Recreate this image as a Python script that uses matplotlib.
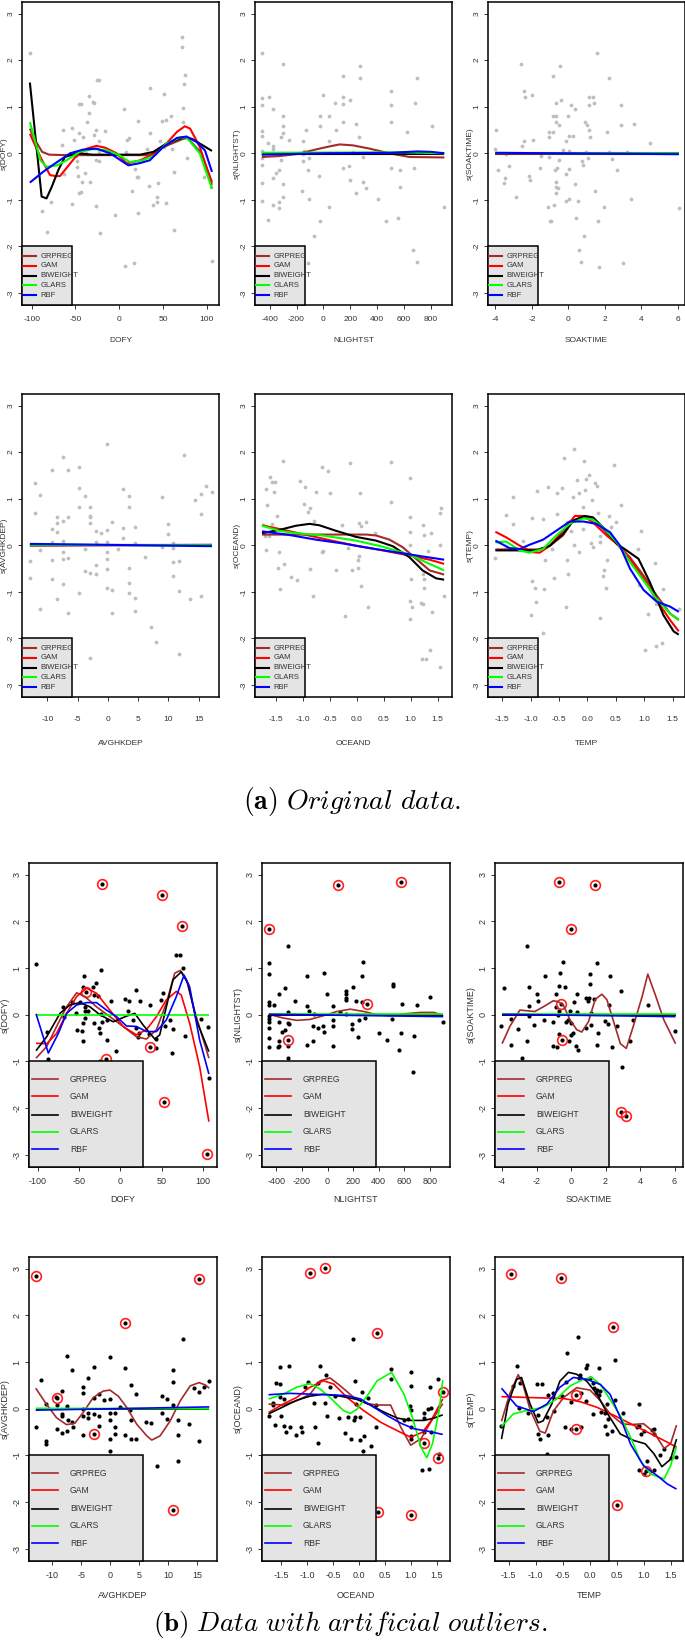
import numpy as np
import matplotlib
matplotlib.use('Agg')
import matplotlib.pyplot as plt
from matplotlib.patches import Rectangle

plt.rcParams['mathtext.fontset'] = 'cm'
plt.rcParams['axes.unicode_minus'] = False

# ── Méthodes et couleurs ───────────────────────────────────────────────
methods = ['GRPREG', 'GAM', 'BIWEIGHT', 'GLARS', 'RBF']
colors = ['#A52A2A', '#FF0000', '#000000', '#00FF00', '#0000FF']

# ── (a) Données originales : résidus partiels ─────────────────────────
a1_pts = [(-102, 2.15), (71.4, 2.49), (71.4, 2.29), (75.2, 1.69), (74.5, 1.49), (-25.7, 1.58), (-23.5, 1.58),
          (35.6, 1.40), (51.3, 1.28), (-34.5, 1.22), (-30, 1.11), (-29, 1.09), (-46, 1.06), (-44, 1.05), (5.5, 0.95),
          (73.3, 0.97), (-35, 0.87), (59, 0.79), (53, 0.72), (49, 0.69), (-37, 0.67), (-54, 0.54), (-64.6, 0.49),
          (-16, 0.48), (-26, 0.51), (22, 0.69), (73, 0.68), (-45.5, 0.43), (-41.7, 0.36), (35.6, 0.43), (11, 0.33),
          (9, 0.28), (-29, 0.39), (-51.6, 0.29), (-22.7, 0.27), (32, 0.09), (7.4, 0.03), (-23, 0.03), (-38, 0.0),
          (47, 0.27), (51, 0.14), (60.8, 0.10), (-49, -0.06), (-48, -0.17), (-27, -0.14), (-22.7, -0.17),
          (77.5, -0.11), (-63, -0.44), (-39, -0.42), (-48, -0.29), (-47, -0.48), (-42.5, -0.61), (-33, -0.61),
          (18, -0.33), (20.7, -0.50), (22, -0.52), (63, -0.41), (97, -0.50), (105, -0.73), (44, -0.63), (34, -0.70),
          (-46, -0.85), (-44, -0.83), (14.7, -0.81), (43, -0.93), (43, -1.04), (38.7, -1.11), (54, -1.07),
          (-53.5, -1.09), (-78, -1.05), (-88, -1.23), (-26, -1.14), (21.5, -1.28), (-5, -1.33), (62.7, -1.65),
          (-82, -1.70), (-21.5, -1.72), (6.7, -2.42), (17, -2.35), (106.5, -2.32), (-65, 0.17)]
a1_grpreg = [(-102, 0.53), (-96, 0.28), (-88, 0.03), (-80, -0.03), (-60, -0.04), (0, -0.04), (35, -0.04),
             (50, 0.13), (73, 0.31), (78, 0.33), (94, 0.0), (106, -0.62)]
a1_gam = [(-102, 0.42), (-90, -0.08), (-79, -0.47), (-72, -0.49), (-67.6, -0.49), (-50, -0.08), (-37, 0.10),
          (-26, 0.16), (-16, 0.12), (-3, 0.0), (8.6, -0.22), (24, -0.15), (39, -0.02), (54, 0.21), (66, 0.46),
          (75, 0.58), (81, 0.53), (92, 0.14), (106, -0.68)]
a1_biweight = [(-102, 1.52), (-96, 0.42), (-88.6, -0.93), (-83, -0.97), (-77, -0.72), (-69.5, -0.36), (-62, -0.08),
               (-48.6, 0.0), (-30, -0.03), (24, -0.03), (39, 0.03), (54, 0.21), (73, 0.34), (83, 0.31), (92, 0.21),
               (106, 0.05)]
a1_glars = [(-102, 0.67), (-90, -0.15), (-83, -0.29), (-71, -0.26), (-60, -0.15), (-45, 0.03), (-30, 0.09),
            (-15, 0.07), (0, -0.04), (12, -0.19), (27, -0.15), (41, -0.04), (54, 0.21), (69.5, 0.34), (77, 0.34),
            (92, 0.0), (106, -0.76)]
a1_rbf = [(-102, -0.63), (-87, -0.40), (-71, -0.19), (-56, 0.0), (-41, 0.08), (-26, 0.10), (-10.5, 0.0), (0, -0.13),
          (10.5, -0.26), (24, -0.21), (35, -0.15), (50, 0.13), (66, 0.33), (77, 0.36), (88.6, 0.24), (98, 0.06),
          (106, -0.40)]

a2_pts = [(-457, 2.15), (-303, 1.92), (273, 1.88), (144, 1.67), (275, 1.61), (696, 1.61), (505, 1.33), (-4, 1.26),
          (-454, 1.19), (-405, 1.20), (144, 1.20), (196, 1.15), (85, 1.09), (681, 1.08), (-454, 1.03), (147, 1.05),
          (505, 1.04), (-378, 0.95), (-303, 0.81), (-24, 0.81), (45, 0.81), (142, 0.67), (505, 0.67), (-303, 0.59),
          (-24, 0.59), (243, 0.62), (805, 0.59), (-128, 0.51), (94, 0.51), (-454, 0.48), (-454, 0.38), (-303, 0.44),
          (-313, 0.35), (-257, 0.29), (624, 0.46), (263, 0.34), (-155, 0.26), (45, 0.26), (-415, 0.23), (-375, 0.16),
          (-375, 0.10), (-454, 0.05), (-454, -0.01), (-143, 0.05), (-155, -0.02), (223, 0.03), (295, -0.09),
          (-454, -0.10), (-316, -0.15), (-155, -0.17), (-108, -0.10), (-454, -0.26), (144, -0.31), (193, -0.28),
          (505, -0.31), (676, -0.32), (567, -0.36), (-331, -0.36), (-113, -0.35), (-353, -0.43), (-378, -0.53),
          (-34, -0.49), (196, -0.57), (293, -0.61), (-454, -0.63), (-303, -0.65), (567, -0.72), (313, -0.75),
          (243, -0.85), (-158, -0.82), (-303, -0.94), (409, -0.98), (-110, -0.99), (-454, -1.03), (-333, -1.04),
          (-378, -1.12), (-331, -1.18), (45, -1.15), (899, -1.16), (-410, -1.44), (-24, -1.45), (463, -1.45),
          (555, -1.40), (-71, -1.77), (669, -2.08), (696, -2.34), (-113, -2.35)]
a2_grpreg = [(-457, -0.08), (-330, -0.06), (-202, -0.02), (-29, 0.10), (50, 0.15), (120, 0.19), (219, 0.17),
             (342, 0.10), (490, 0.0), (639, -0.08), (899, -0.09)]
a2_gam = [(-457, 0.0), (899, 0.0)]
a2_biweight = [(-457, -0.01), (899, -0.01)]
a2_glars = [(-457, 0.01), (600, 0.02), (899, 0.0)]
a2_rbf = [(-457, -0.03), (0, 0.0), (500, 0.01), (700, 0.04), (800, 0.03), (899, 0.0)]

a3_pts = [(1.55, 2.15), (-2.57, 1.92), (-0.43, 1.88), (-0.82, 1.67), (2.23, 1.61), (-2.44, 1.33), (-2.35, 1.20),
          (-1.98, 1.25), (1.15, 1.20), (1.33, 1.20), (-0.38, 1.15), (-0.67, 1.08), (1.11, 1.04), (1.39, 1.09),
          (2.89, 1.04), (0.14, 1.03), (0.34, 0.95), (-0.82, 0.81), (-0.67, 0.81), (-0.01, 0.81), (0.91, 0.67),
          (-0.67, 0.67), (-0.49, 0.60), (1.02, 0.60), (2.89, 0.60), (3.59, 0.62), (1.15, 0.51), (-3.94, 0.51),
          (-1.06, 0.46), (-0.82, 0.46), (2.10, 0.45), (4.45, 0.23), (-1.04, 0.34), (0.01, 0.37), (0.28, 0.38),
          (1.18, 0.34), (-1.94, 0.29), (-2.44, 0.26), (-2.53, 0.15), (-0.14, 0.26), (-4.0, 0.09), (-0.29, 0.06),
          (0.01, 0.05), (0.95, 0.03), (2.21, 0.03), (3.22, 0.03), (-3.43, -0.02), (-1.48, -0.06), (-1.08, -0.09),
          (1.07, -0.10), (2.40, -0.12), (-0.49, -0.15), (0.74, -0.16), (0.81, -0.25), (-3.25, -0.28), (-1.54, -0.31),
          (-0.64, -0.31), (0.06, -0.33), (-0.71, -0.36), (2.67, -0.35), (-3.85, -0.37), (-0.14, -0.45),
          (-2.18, -0.48), (-2.09, -0.57), (-3.49, -0.53), (-3.54, -0.63), (-0.67, -0.61), (0.34, -0.65),
          (-0.67, -0.72), (-0.54, -0.75), (-0.65, -0.85), (1.48, -0.82), (-2.86, -0.94), (0.06, -0.98),
          (3.41, -0.99), (-0.12, -1.03), (0.52, -1.03), (-0.78, -1.12), (-1.10, -1.15), (1.94, -1.16),
          (6.07, -1.18), (0.43, -1.40), (-1.02, -1.45), (-0.94, -1.45), (1.64, -1.45), (0.87, -1.77),
          (0.58, -2.08), (0.72, -2.34), (1.68, -2.44), (2.97, -2.35)]
a3_grpreg = [(-4.0, -0.01), (6.05, -0.01)]
a3_gam = [(-4.0, 0.0), (6.05, 0.0)]
a3_biweight = [(-4.0, 0.0), (6.05, -0.005)]
a3_glars = [(-4.0, 0.005), (6.05, 0.0)]
a3_rbf = [(-4.0, 0.01), (6.05, -0.02)]

a4_pts = [(-0.2, 2.17), (-7.47, 1.89), (12.58, 1.93), (-4.77, 1.68), (-9.28, 1.61), (-6.59, 1.62), (-12.04, 1.33),
          (16.27, 1.27), (-4.77, 1.22), (2.56, 1.20), (17.15, 1.15), (-11.16, 1.09), (15.33, 1.10), (-3.78, 1.05),
          (3.49, 1.05), (8.94, 1.04), (14.45, 0.97), (-4.77, 0.83), (-2.9, 0.83), (3.49, 0.83), (-12.04, 0.69),
          (15.33, 0.68), (-8.46, 0.60), (-6.59, 0.61), (-2.9, 0.63), (-2.9, 0.60), (-7.47, 0.52), (0.74, 0.51),
          (-8.46, 0.48), (-2.9, 0.47), (9.88, 0.45), (-9.28, 0.34), (-0.2, 0.33), (2.56, 0.38), (4.43, 0.39),
          (-1.96, 0.31), (-1.08, 0.27), (-8.46, 0.28), (9.88, 0.24), (2.56, 0.16), (-7.47, 0.10), (-9.28, 0.06),
          (-1.96, 0.08), (-0.2, 0.06), (4.43, 0.05), (10.76, 0.05), (8.94, -0.03), (10.76, -0.06), (-3.78, -0.08),
          (1.67, -0.09), (-11.16, -0.11), (-7.47, -0.15), (-0.2, -0.14), (-6.59, -0.27), (6.19, -0.25),
          (-9.28, -0.31), (-7.47, -0.29), (-0.2, -0.29), (-12.92, -0.34), (10.76, -0.35), (11.70, -0.34),
          (-1.96, -0.43), (3.49, -0.48), (-0.2, -0.52), (-3.78, -0.56), (-2.9, -0.59), (-1.96, -0.62),
          (10.76, -0.65), (-12.92, -0.71), (-9.28, -0.73), (-7.47, -0.83), (3.49, -0.80), (-0.2, -0.92),
          (0.74, -0.96), (11.70, -0.98), (-4.77, -1.03), (3.49, -1.03), (15.33, -1.10), (4.43, -1.14),
          (-8.4, -1.15), (13.51, -1.16), (-11.16, -1.38), (-6.59, -1.45), (0.74, -1.45), (4.43, -1.42),
          (7.13, -1.76), (8.01, -2.07), (11.70, -2.34), (-2.9, -2.43)]
a4_grpreg = [(-12.9, -0.01), (17.2, 0.01)]
a4_gam = [(-12.9, 0.0), (17.2, 0.0)]
a4_biweight = [(-12.9, 0.0), (17.2, 0.0)]
a4_glars = [(-12.9, 0.01), (17.2, 0.0)]
a4_rbf = [(-12.9, 0.03), (17.2, -0.02)]

a5_pts = [(-1.36, 1.82), (-0.12, 1.77), (0.63, 1.79), (-0.64, 1.69), (-0.53, 1.60), (-1.60, 1.47), (0.99, 1.45),
          (-1.57, 1.36), (-1.51, 1.36), (-1.04, 1.38), (-0.95, 1.25), (-1.67, 1.20), (-1.52, 1.15), (-0.76, 1.15),
          (-0.49, 1.12), (0.06, 1.13), (0.63, 0.92), (-1.66, 0.87), (-0.97, 0.88), (-0.87, 0.81), (1.57, 0.79),
          (-0.90, 0.71), (1.54, 0.69), (-1.48, 0.63), (0.98, 0.61), (-0.79, 0.53), (0.17, 0.49), (0.04, 0.48),
          (-1.56, 0.45), (-1.73, 0.43), (-0.27, 0.43), (0.08, 0.41), (1.22, 0.43), (0.99, 0.29), (1.37, 0.27),
          (1.24, 0.22), (-1.69, 0.19), (-1.62, 0.19), (0.34, 0.27), (0.99, 0.01), (1.54, 0.0), (-0.16, -0.06),
          (-1.68, -0.10), (-0.63, -0.12), (-0.64, -0.14), (-1.44, -0.15), (1.32, -0.13), (0.05, -0.22),
          (0.03, -0.31), (-1.35, -0.40), (-1.45, -0.48), (0.03, -0.48), (-0.86, -0.50), (-0.39, -0.54),
          (-0.08, -0.54), (1.22, -0.61), (1.25, -0.72), (1.01, -0.72), (-1.22, -0.68), (-1.10, -0.74),
          (0.08, -0.87), (-1.42, -0.93), (1.24, -0.91), (-0.80, -1.08), (1.62, -1.10), (0.22, -1.33),
          (0.98, -1.20), (1.03, -1.33), (1.20, -1.23), (1.22, -1.27), (1.40, -1.43), (-0.22, -1.53),
          (0.99, -1.58), (1.36, -2.25), (1.21, -2.45), (1.28, -2.45), (1.54, -2.62)]
a5_grpreg = [(-1.75, 0.23), (-1.0, 0.23), (0.18, 0.23), (0.36, 0.21), (0.61, 0.12), (0.85, -0.04), (1.10, -0.29),
             (1.35, -0.54), (1.62, -0.63)]
a5_gam = [(-1.75, 0.43), (-1.43, 0.35), (-1.0, 0.24), (-0.5, 0.11), (-0.01, -0.01), (0.48, -0.11), (0.98, -0.22),
          (1.35, -0.31), (1.62, -0.40)]
a5_biweight = [(-1.75, 0.26), (-1.43, 0.33), (-1.12, 0.42), (-0.87, 0.46), (-0.69, 0.43), (-0.38, 0.31),
               (-0.01, 0.18), (0.36, 0.10), (0.67, -0.02), (0.98, -0.26), (1.22, -0.54), (1.47, -0.71),
               (1.62, -0.74)]
a5_glars = [(-1.75, 0.42), (-1.43, 0.31), (-1.12, 0.26), (-0.63, 0.21), (-0.01, 0.10), (0.48, -0.03),
            (0.98, -0.20), (1.35, -0.40), (1.62, -0.54)]
a5_rbf = [(-1.75, 0.30), (-1.24, 0.22), (-0.75, 0.12), (-0.26, 0.04), (0.24, -0.06), (0.73, -0.15), (1.22, -0.24),
          (1.62, -0.31)]

a6_pts = [(-0.23, 2.07), (-0.42, 1.88), (-0.06, 1.80), (0.47, 1.72), (0.03, 1.50), (-0.18, 1.40), (-0.03, 1.42),
          (0.13, 1.33), (0.17, 1.28), (-0.70, 1.26), (-0.44, 1.22), (-0.88, 1.16), (-0.53, 1.12), (-0.15, 1.12),
          (-0.05, 1.18), (-1.31, 1.03), (-0.25, 1.03), (0.09, 0.98), (0.60, 0.87), (-0.08, 0.83), (-0.53, 0.68),
          (0.19, 0.69), (-1.44, 0.64), (0.38, 0.62), (-0.98, 0.58), (-0.78, 0.57), (0.50, 0.51), (-1.31, 0.46),
          (-0.36, 0.51), (0.11, 0.49), (0.42, 0.40), (-0.07, 0.35), (-0.29, 0.31), (0.94, 0.31), (0.22, 0.20),
          (0.06, 0.05), (0.10, -0.04), (0.23, 0.06), (-0.24, 0.0), (-1.13, 0.10), (-0.62, -0.08), (-1.44, -0.06),
          (-0.15, -0.15), (0.90, -0.09), (0.34, -0.31), (-0.75, -0.31), (-0.36, -0.31), (-1.62, -0.27),
          (1.19, -0.38), (0.29, -0.54), (0.27, -0.65), (-0.34, -0.62), (-0.58, -0.71), (-0.98, -0.77),
          (0.91, -0.85), (0.32, -0.91), (-0.92, -0.91), (-0.77, -0.94), (1.34, -0.95), (-0.91, -1.22),
          (1.21, -1.26), (1.39, -1.36), (-0.37, -1.32), (1.61, -1.37), (1.06, -1.48), (-1.0, -1.50),
          (0.22, -1.57), (-0.79, -1.89), (1.31, -2.10), (1.21, -2.17), (1.02, -2.26)]
a6_grpreg = [(-1.62, -0.09), (-0.84, -0.09), (-0.66, -0.01), (-0.43, 0.21), (-0.25, 0.53), (-0.07, 0.62),
             (0.10, 0.56), (0.28, 0.35), (0.52, 0.03), (0.75, -0.26), (0.99, -0.65), (1.22, -1.08), (1.46, -1.47),
             (1.61, -1.60)]
a6_gam = [(-1.62, 0.29), (-1.43, 0.17), (-1.19, -0.01), (-0.96, -0.15), (-0.84, -0.16), (-0.66, -0.01),
          (-0.43, 0.31), (-0.22, 0.63), (-0.07, 0.63), (0.10, 0.49), (0.34, 0.21), (0.52, 0.03), (0.75, -0.29),
          (0.99, -0.72), (1.22, -1.18), (1.46, -1.61), (1.61, -1.85)]
a6_biweight = [(-1.62, -0.11), (-0.90, -0.11), (-0.66, -0.01), (-0.43, 0.24), (-0.25, 0.53), (-0.04, 0.63),
               (0.10, 0.60), (0.28, 0.38), (0.52, 0.03), (0.69, -0.11), (0.90, -0.29), (1.10, -0.79),
               (1.34, -1.50), (1.52, -1.85), (1.61, -1.92)]
a6_glars = [(-1.62, 0.06), (-1.43, 0.08), (-1.19, -0.11), (-1.02, -0.16), (-0.78, -0.08), (-0.55, 0.21),
            (-0.31, 0.46), (-0.07, 0.58), (0.10, 0.55), (0.28, 0.38), (0.52, 0.06), (0.75, -0.36), (0.99, -0.76),
            (1.22, -1.15), (1.46, -1.47), (1.61, -1.61)]
a6_rbf = [(-1.62, 0.10), (-1.37, -0.06), (-1.19, -0.08), (-1.02, 0.01), (-0.78, 0.12), (-0.55, 0.31),
          (-0.31, 0.51), (-0.07, 0.51), (0.16, 0.46), (0.40, 0.28), (0.57, 0.0), (0.75, -0.50), (0.99, -0.96),
          (1.22, -1.21), (1.46, -1.32), (1.61, -1.43)]

# ── (b) Données avec valeurs aberrantes artificielles ──────────────────
b1_pts = [(-102, 1.08), (67.8, 1.27), (72.2, 1.28), (75.8, 1.0), (-44.1, 0.82), (-23.1, 0.95), (-29.2, 0.69),
          (-45.7, 0.60), (-33.4, 0.59), (-32.2, 0.42), (-27.6, 0.40), (18.7, 0.52), (6.2, 0.33), (10.6, 0.30),
          (23.5, 0.30), (-10.7, 0.30), (52.1, 0.46), (49.3, 0.32), (36.4, 0.20), (-69.8, 0.17), (-59.0, 0.27),
          (-48.5, 0.27), (-43.3, 0.17), (-42.5, 0.09), (-38.8, 0.07), (9.4, 0.08), (-54.1, 0.03), (-68.6, -0.04),
          (-23.1, 0.02), (-43.3, -0.07), (-22.7, -0.15), (-31.6, -0.18), (-44.9, -0.18), (15.1, -0.11),
          (-16.7, -0.11), (54.5, -0.25), (60.6, -0.11), (19.1, -0.29), (-52.9, -0.32), (-46.9, -0.34),
          (-24.7, -0.40), (-25.9, -0.29), (63.8, -0.31), (22.7, -0.38), (-88.7, -0.37), (34.8, -0.41),
          (43.3, -0.52), (21.5, -0.48), (-45.7, -0.57), (-16.7, -0.55), (77.9, -0.45), (42.9, -0.72),
          (63.0, -0.82), (-5.0, -0.77), (-24.7, -0.98), (-87.9, -0.95), (106.0, -0.27), (107.2, -1.36),
          (97.2, -0.09)]
b1_out = [(-21.9, 2.79), (50.1, 2.57), (74.2, 1.91), (-41.7, 0.48), (-17.5, -0.95), (36.0, -0.70), (52.5, -1.86),
          (105.2, -2.98)]
b1_grpreg = [(-102, -0.93), (-89.1, -0.68), (-77.1, -0.25), (-65.0, 0.17), (-52.9, 0.47), (-42.9, 0.39),
             (-28.8, 0.17), (-12.7, -0.04), (3.4, -0.25), (19.5, -0.47), (31.6, -0.52), (43.7, -0.32), (55.7, 0.25),
             (65.8, 0.89), (72.6, 0.95), (79.9, 0.75), (91.9, -0.04), (107.2, -0.93)]
b1_gam = [(-102, -0.61), (-89.1, -0.62), (-77.1, -0.40), (-65.0, 0.03), (-52.9, 0.39), (-40.8, 0.57), (-28.8, 0.46),
          (-12.7, 0.10), (3.4, -0.25), (19.5, -0.43), (31.6, -0.32), (43.7, -0.04), (55.7, 0.32), (67.8, 0.50),
          (73.8, 0.42), (83.9, -0.18), (96.0, -1.11), (107.2, -2.29)]
b1_biweight = [(-102, -0.77), (-89.1, -0.47), (-73.0, 0.03), (-61.0, 0.21), (-48.9, 0.26), (-36.8, 0.17),
               (-24.7, 0.0), (-8.6, -0.15), (7.4, -0.03), (17.5, 0.03), (27.6, -0.22), (41.7, -0.52),
               (47.7, -0.43), (55.7, 0.17), (63.8, 0.75), (73.8, 0.92), (81.9, 0.67), (91.9, -0.11),
               (107.2, -0.79)]
b1_glars = [(-102, 0.0), (107.2, 0.0)]
b1_rbf = [(-102, 0.02), (-87.1, -0.82), (-75.0, -0.40), (-65.0, 0.03), (-52.9, 0.21), (-40.8, 0.26), (-28.8, 0.26),
          (-16.7, 0.10), (-4.6, -0.04), (7.4, -0.24), (19.5, -0.25), (31.6, -0.36), (43.7, -0.36), (55.7, -0.11),
          (67.8, 0.39), (77.1, 0.85), (83.9, 0.60), (96.0, -0.54), (107.2, -1.27)]

b2_pts = [(-308, 1.48), (-460, 1.11), (-460, 0.87), (275, 1.14), (272, 0.84), (-158, 0.82), (-27, 0.90),
          (509, 0.66), (509, 0.62), (-332, 0.57), (196, 0.59), (-382, 0.44), (-6, 0.45), (144, 0.51), (144, 0.45),
          (144, 0.35), (146, 0.32), (805, 0.37), (-460, 0.28), (-458, 0.21), (-418, 0.20), (-258, 0.30),
          (222, 0.30), (267, 0.27), (-158, 0.19), (584, 0.23), (698, 0.20), (-148, 0.07), (-308, 0.06), (94, 0.05),
          (44, 0.18), (-109, 0.02), (144, 0.01), (-460, -0.02), (-460, -0.10), (-460, -0.15), (293, -0.07),
          (246, -0.12), (506, -0.10), (-379, -0.15), (-313, -0.18), (-303, -0.20), (44, -0.12), (193, -0.19),
          (-114, -0.24), (41, -0.24), (-38, -0.25), (-72, -0.29), (-460, -0.28), (-353, -0.36), (-332, -0.32),
          (-25, -0.36), (193, -0.30), (406, -0.40), (572, -0.40), (677, -0.45), (902, -0.16), (241, -0.47),
          (464, -0.54), (-379, -0.57), (-116, -0.57), (-460, -0.50), (-379, -0.66), (-158, -0.65), (-385, -0.70),
          (-311, -0.66), (-460, -0.70), (41, -0.66), (556, -0.75), (-308, -0.93), (666, -1.23)]
b2_out = [(-460, 1.84), (83, 2.78), (572, 2.85), (312, 0.22), (-311, -0.54)]
b2_grpreg = [(-460, 0.01), (-347, -0.07), (-242, -0.12), (-137, -0.10), (-32, -0.02), (73, 0.07), (178, 0.12),
             (283, 0.07), (388, 0.0), (493, -0.02), (598, 0.02), (729, 0.05), (834, 0.05), (905, -0.02)]
b2_gam = [(-460, 0.0), (905, 0.0)]
b2_biweight = [(-460, 0.0), (905, 0.0)]
b2_glars = [(-460, 0.01), (905, 0.01)]
b2_rbf = [(-460, 0.01), (905, -0.04)]

b3_pts = [(-2.58, 1.48), (-0.47, 1.14), (1.53, 1.11), (-1.49, 0.82), (2.25, 0.84), (-0.66, 0.90), (1.11, 0.87),
          (-0.68, 0.62), (-0.35, 0.59), (-2.45, 0.60), (-3.88, 0.57), (1.11, 0.65), (-2.0, 0.45), (-0.85, 0.45),
          (0.35, 0.45), (2.89, 0.51), (0.16, 0.28), (0.86, 0.36), (1.03, 0.36), (0.97, 0.29), (1.32, 0.33),
          (-1.94, 0.29), (2.21, 0.20), (4.45, 0.20), (-2.45, 0.19), (-0.87, 0.17), (-0.68, 0.09), (-0.04, 0.07),
          (0.35, 0.05), (1.13, 0.03), (-0.74, 0.0), (-2.41, -0.02), (-3.46, -0.10), (-0.27, -0.15),
          (-0.17, -0.11), (0.02, -0.17), (-1.55, -0.11), (1.94, -0.14), (1.15, -0.22), (3.59, -0.11),
          (2.14, -0.20), (-1.05, -0.15), (2.66, -0.24), (-4.04, -0.23), (-2.15, -0.22), (-3.06, -0.30),
          (1.59, -0.38), (0.10, -0.38), (0.0, -0.43), (-0.72, -0.42), (0.84, -0.29), (6.0, -0.34), (-2.54, -0.57),
          (-0.14, -0.57), (0.29, -0.66), (-1.07, -0.66), (-3.50, -0.65), (0.43, -0.75), (-0.80, -0.70),
          (1.50, -0.65), (2.35, -0.70), (3.44, -0.57), (-2.85, -0.93), (2.93, -1.12)]
b3_out = [(-0.72, 2.85), (1.40, 2.78), (0.0, 1.84), (-0.60, 0.22), (-0.50, -0.54), (2.87, -2.09), (3.20, -2.17)]
b3_grpreg = [(-4.0, -0.62), (-3.55, -0.25), (-2.97, 0.10), (-2.68, 0.09), (-2.10, 0.07), (-1.61, 0.17),
             (-1.03, 0.30), (-0.74, 0.28), (-0.45, 0.21), (-0.06, -0.11), (0.33, -0.32), (0.62, -0.37),
             (1.01, -0.15), (1.40, 0.33), (1.79, 0.44), (2.08, 0.32), (2.47, -0.15), (2.86, -0.62), (3.20, -0.72),
             (3.63, -0.22), (4.12, 0.39), (4.45, 0.87), (4.89, 0.42), (5.38, -0.11), (6.06, -0.62)]
b3_gam = [(-4.0, 0.0), (6.06, 0.0)]
b3_biweight = [(-4.0, 0.0), (6.06, 0.0)]
b3_glars = [(-4.0, 0.01), (6.06, 0.01)]
b3_rbf = [(-4.0, 0.01), (6.06, -0.04)]

b4_pts = [(12.63, 1.49), (-7.40, 1.14), (-0.10, 1.11), (-6.53, 0.84), (-2.82, 0.90), (2.62, 0.88), (10.78, 0.82),
          (-3.87, 0.66), (-11.97, 0.61), (17.14, 0.59), (16.21, 0.46), (14.42, 0.45), (-4.68, 0.46),
          (10.78, 0.57), (3.54, 0.51), (-8.32, 0.37), (15.35, 0.35), (4.41, 0.31), (-4.68, 0.33), (-1.96, 0.31),
          (8.98, 0.28), (-9.31, 0.26), (-2.88, 0.23), (9.85, 0.20), (-1.03, 0.19), (-0.10, 0.21), (-7.45, 0.05),
          (-9.19, 0.09), (-11.04, 0.10), (1.69, 0.03), (10.78, 0.07), (-4.68, -0.01), (3.48, -0.03),
          (-0.10, -0.10), (0.76, -0.09), (-8.32, -0.11), (-3.81, -0.10), (-2.82, -0.11), (8.92, -0.09),
          (-8.32, -0.15), (-1.96, -0.15), (-4.68, -0.16), (-3.81, -0.20), (9.85, -0.22), (-0.10, -0.23),
          (3.54, -0.24), (11.70, -0.24), (-7.34, -0.24), (6.26, -0.28), (7.13, -0.30), (-6.53, -0.29),
          (13.55, -0.33), (-1.90, -0.36), (-6.47, -0.38), (-12.89, -0.40), (0.82, -0.40), (-9.25, -0.44),
          (-7.40, -0.47), (-8.32, -0.51), (0.76, -0.53), (-4.68, -0.56), (2.62, -0.56), (11.70, -0.57),
          (3.54, -0.65), (4.41, -0.65), (-0.10, -0.64), (15.35, -0.70), (-11.04, -0.70), (-11.04, -0.76),
          (-0.10, -0.91), (11.70, -1.12), (8.06, -1.22)]
b4_out = [(-12.89, 2.85), (15.35, 2.78), (2.62, 1.84), (-9.19, 0.22), (-2.82, -0.53), (10.78, -2.17)]
b4_grpreg = [(-12.89, 0.44), (-11.04, 0.10), (-9.31, -0.19), (-7.57, -0.34), (-6.12, -0.31), (-4.68, -0.08),
             (-2.94, 0.24), (-1.20, 0.38), (-0.05, 0.40), (1.40, 0.27), (2.85, 0.03), (4.58, -0.33), (6.32, -0.58),
             (7.19, -0.67), (8.63, -0.58), (10.37, -0.26), (12.11, 0.17), (13.84, 0.49), (15.35, 0.56),
             (16.45, 0.51), (17.14, 0.44)]
b4_gam = [(-12.89, 0.0), (17.14, 0.0)]
b4_biweight = [(-12.89, 0.0), (17.14, 0.0)]
b4_glars = [(-12.89, 0.01), (17.14, 0.0)]
b4_rbf = [(-12.89, -0.03), (17.14, 0.04)]

b5_pts = [(-0.12, 1.49), (-0.76, 0.92), (-1.52, 0.90), (-1.36, 0.91), (0.62, 0.85), (1.0, 0.79), (-0.64, 0.72),
          (1.53, 0.64), (0.62, 0.63), (-0.98, 0.58), (-1.60, 0.56), (-0.08, 0.59), (-1.52, 0.53), (-0.79, 0.56),
          (1.0, 0.49), (1.37, 0.46), (-0.56, 0.47), (-1.05, 0.46), (-1.53, 0.26), (-1.45, 0.20), (-0.47, 0.28),
          (0.05, 0.35), (-0.87, 0.12), (-0.65, 0.12), (0.17, 0.22), (-1.66, 0.12), (-1.66, 0.09), (0.98, 0.06),
          (1.33, -0.01), (0.33, 0.07), (-0.05, 0.10), (1.0, -0.02), (-1.75, -0.15), (-1.51, -0.15), (-0.62, -0.15),
          (-0.38, -0.19), (-0.22, -0.18), (-0.08, -0.17), (-0.10, -0.24), (0.02, -0.17), (0.94, -0.22),
          (1.25, -0.20), (0.87, -0.23), (-1.62, -0.34), (-1.45, -0.37), (-1.34, -0.39), (-1.13, -0.39),
          (-0.86, -0.39), (0.33, -0.38), (-1.42, -0.50), (-1.10, -0.49), (1.0, -0.38), (-1.21, -0.57),
          (-0.27, -0.52), (-0.16, -0.64), (0.02, -0.67), (0.09, -0.58), (1.0, -0.59), (1.25, -0.49),
          (1.40, -0.50), (1.0, -0.65), (-0.79, -0.73), (0.23, -0.80), (0.08, -0.90), (1.21, -1.31),
          (1.36, -1.30), (1.55, -0.97), (1.26, -0.10), (1.40, 0.01)]
b5_out = [(-0.94, 2.91), (-0.65, 3.01), (0.35, 1.63), (1.25, -0.74), (1.53, -1.05), (1.62, 0.36), (0.37, -2.20),
          (1.0, -2.28)]
b5_grpreg = [(-1.75, 0.10), (-1.47, 0.08), (-1.21, 0.17), (-0.95, 0.31), (-0.75, 0.60), (-0.56, 0.66),
             (-0.36, 0.49), (-0.10, 0.24), (0.16, 0.11), (0.35, 0.08), (0.61, 0.08), (0.81, -0.40), (1.0, -0.78),
             (1.20, -0.64), (1.39, -0.28), (1.62, 0.11)]
b5_gam = [(-1.75, -0.08), (-1.47, 0.10), (-1.21, 0.24), (-0.95, 0.46), (-0.69, 0.60), (-0.49, 0.53),
          (-0.23, 0.24), (0.09, -0.04), (0.42, -0.29), (0.74, -0.47), (1.0, -0.61), (1.23, -0.50), (1.39, -0.26),
          (1.62, 0.21)]
b5_biweight = [(-1.75, -0.11), (-1.47, 0.04), (-1.21, 0.18), (-0.95, 0.27), (-0.69, 0.31), (-0.36, 0.27),
               (-0.04, 0.20), (0.22, 0.08), (0.48, -0.07), (0.74, -0.20), (1.0, -0.25), (1.26, -0.25),
               (1.45, -0.20), (1.62, -0.13)]
b5_glars = [(-1.75, 0.21), (-1.47, 0.31), (-1.21, 0.46), (-0.95, 0.54), (-0.75, 0.42), (-0.56, 0.24),
            (-0.30, -0.04), (-0.17, -0.10), (-0.04, -0.01), (0.16, 0.28), (0.35, 0.60), (0.63, 0.78), (0.87, 0.31),
            (1.03, -0.18), (1.20, -0.82), (1.31, -1.05), (1.42, -0.75), (1.55, -0.04), (1.62, 0.61)]
b5_rbf = [(-1.75, 0.30), (-1.34, 0.33), (-0.88, 0.31), (-0.56, 0.30), (-0.23, 0.28), (0.03, 0.21), (0.29, 0.03),
          (0.55, -0.15), (0.81, -0.31), (1.07, -0.43), (1.33, -0.48), (1.62, -0.55)]

b6_pts = [(-0.22, 1.53), (-0.42, 1.20), (0.48, 1.04), (-1.35, 0.91), (-0.05, 0.93), (-0.07, 0.88), (0.18, 0.88),
          (-0.18, 0.72), (-0.20, 0.65), (0.01, 0.65), (-0.44, 0.58), (-1.29, 0.56), (-0.98, 0.54), (-0.88, 0.54),
          (0.06, 0.56), (-1.41, 0.49), (0.08, 0.45), (0.14, 0.41), (0.20, 0.39), (0.12, 0.34), (-0.68, 0.33),
          (-0.15, 0.33), (0.17, 0.30), (-0.76, 0.30), (-0.51, 0.27), (0.47, 0.18), (-0.07, 0.16), (-0.35, 0.14),
          (0.33, 0.10), (0.92, 0.10), (-1.31, 0.01), (-1.13, -0.10), (0.29, -0.10), (0.06, -0.12), (0.22, -0.07),
          (0.62, -0.10), (-0.96, -0.14), (-0.78, -0.17), (-0.65, -0.05), (0.35, -0.22), (-1.63, -0.36),
          (0.92, -0.36), (0.29, -0.37), (-0.45, -0.40), (-0.16, -0.40), (-0.35, -0.43), (0.42, -0.47),
          (0.88, -0.40), (1.0, -0.47), (0.95, -0.54), (1.15, -0.46), (1.20, -0.44), (-0.96, -0.54), (-0.76, -0.56),
          (-0.91, -0.64), (0.32, -0.54), (1.20, -0.54), (1.37, -0.87), (1.30, -0.98), (-0.79, -0.96),
          (1.07, -1.11), (0.92, -1.31), (1.20, -1.31), (1.0, -1.40), (1.51, -1.05), (1.60, -1.04)]
b6_out = [(-1.46, 2.89), (-0.53, 2.80), (0.43, 1.76), (-0.25, 0.30), (-0.25, -0.43), (1.05, -1.33), (0.50, -2.07)]
b6_grpreg = [(-1.63, -0.27), (-1.48, 0.31), (-1.32, 0.73), (-1.23, 0.51), (-1.10, -0.02), (-0.92, -0.48),
             (-0.82, -0.52), (-0.67, -0.05), (-0.48, 0.24), (-0.24, 0.45), (0.01, 0.40), (0.20, 0.17),
             (0.38, -0.11), (0.60, -0.32), (0.76, -0.34), (1.0, -0.32), (1.19, -0.50), (1.38, -0.85), (1.50, -0.75),
             (1.61, -0.35)]
b6_gam = [(-1.63, 0.26), (-1.10, 0.24), (-0.48, 0.22), (-0.17, 0.15), (0.14, 0.03), (0.45, -0.14), (0.76, -0.32),
          (1.07, -0.50), (1.38, -0.68), (1.61, -0.82)]
b6_biweight = [(-1.63, -0.65), (-1.51, 0.10), (-1.35, 0.63), (-1.26, 0.67), (-1.10, 0.10), (-0.95, -0.30),
               (-0.86, -0.26), (-0.70, 0.10), (-0.55, 0.59), (-0.39, 0.78), (-0.24, 0.74), (-0.05, 0.59),
               (0.14, 0.31), (0.32, -0.08), (0.57, -0.54), (0.82, -0.68), (1.03, -0.75), (1.19, -0.96),
               (1.34, -1.24), (1.50, -1.08), (1.61, -0.65)]
b6_glars = [(-1.63, -0.38), (-1.41, -0.11), (-1.17, -0.04), (-0.86, 0.03), (-0.61, 0.21), (-0.36, 0.49),
            (-0.11, 0.63), (0.04, 0.67), (0.20, 0.52), (0.38, 0.20), (0.57, -0.15), (0.76, -0.61), (0.94, -1.11),
            (1.13, -1.40), (1.38, -1.50), (1.50, -1.22), (1.61, -0.81)]
b6_rbf = [(-1.63, 0.44), (-1.35, 0.06), (-1.04, -0.06), (-0.79, 0.10), (-0.55, 0.46), (-0.30, 0.67), (-0.05, 0.63),
          (0.20, 0.52), (0.38, 0.31), (0.57, -0.19), (0.76, -0.76), (1.0, -1.22), (1.25, -1.43), (1.44, -1.61),
          (1.61, -1.72)]

# ── Axes : variables, limites, graduations ─────────────────────────────
var_names = ['DOFY', 'NLIGHTST', 'SOAKTIME', 'AVGHKDEP', 'OCEAND', 'TEMP']
xticks_dofy = [-100, -50, 0, 50, 100]
xticks_nlight = [-400, -200, 0, 200, 400, 600, 800]
xticks_soak = [-4, -2, 0, 2, 4, 6]
xticks_avg = [-10, -5, 0, 5, 10, 15]
xticks_std = [-1.5, -1.0, -0.5, 0.0, 0.5, 1.0, 1.5]
yticks = [-3, -2, -1, 0, 1, 2, 3]
ylim = (-3.26, 3.25)

W, H = 685, 1650


def tick_lab(v):
    if isinstance(v, int):
        return f'{v}'
    return f'{v:.1f}'


def panel(fig, left, top, width, height, xlim, xt, xlabel, pts, curves, outl, style, tick_off, lab_off):
    ax = fig.add_axes([left / W, 1 - (top + height) / H, width / W, height / H])
    if style == 'a':
        fam = ['Liberation Sans Narrow', 'Liberation Sans', 'DejaVu Sans']
        fs_tick, ylab_x = 6, -0.09
    else:
        fam = ['Liberation Sans', 'DejaVu Sans']
        fs_tick, ylab_x = 6.5, -0.127
    px, py = np.array(pts).T
    if style == 'a':
        ax.plot(px, py, 'o', ms=2.7, color='#BEBEBE', mec='none', zorder=2)
        lw = 1.5
    else:
        ax.plot(px, py, 'o', ms=3.0, color='black', mec='none', zorder=2)
        ox, oy = np.array(outl).T
        ax.plot(ox, oy, 'o', ms=3.0, color='black', mec='none', zorder=2)
        ax.plot(ox, oy, 'o', ms=7, mfc='none', mec='#FF2020', mew=1.2, zorder=2)
        lw = 1.2
    for cv, col in zip(curves, colors):
        cx, cy = np.array(cv).T
        ax.plot(cx, cy, color=col, lw=lw, zorder=3, solid_capstyle='butt')

    ax.set_xlim(*xlim)
    ax.set_ylim(*ylim)
    ax.set_xticks(xt)
    ax.set_xticklabels([tick_lab(v) for v in xt], family=fam, fontsize=fs_tick)
    ax.set_yticks(yticks)
    ax.set_yticklabels([str(v) for v in yticks], family=fam, fontsize=fs_tick, rotation=90, va='center')
    ax.tick_params(length=3, width=0.7, color='#333333', labelcolor='#333333')
    ax.tick_params(axis='x', pad=tick_off)
    ax.tick_params(axis='y', pad=2.5)
    for s in ax.spines.values():
        s.set_linewidth(1.1)
    ax.set_xlabel(xlabel, family=fam, fontsize=fs_tick, color='#333333', va='center')
    ax.xaxis.set_label_coords(0.5, -lab_off / height)
    ax.set_ylabel(f's({xlabel})', family=fam, fontsize=fs_tick, color='#333333', va='center')
    ax.yaxis.set_label_coords(ylab_x, 0.5)

    # ── Légende dessinée à la main (coin bas gauche) ──
    def fy(v):
        return (v - ylim[0]) / (ylim[1] - ylim[0])
    if style == 'a':
        box_w, box_top = 0.254, -2.0
        ly = [-2.21, -2.42, -2.63, -2.84, -3.05]
        l0, l1, tx, fs = 0.005, 0.069, 0.093, 5.5
    else:
        box_w, box_top = 0.605, -1.0
        ly = [-1.38, -1.75, -2.14, -2.51, -2.88]
        l0, l1, tx, fs = 0.016, 0.155, 0.217, 6.2
    ax.add_patch(Rectangle((0, 0), box_w, fy(box_top), transform=ax.transAxes, facecolor='#E4E4E4',
                           edgecolor='black', lw=1.1, zorder=4, clip_on=False))
    for name, col, yv in zip(methods, colors, ly):
        ax.plot([l0, l1], [fy(yv), fy(yv)], transform=ax.transAxes, color=col, lw=lw, zorder=5)
        ax.text(tx, fy(yv), name, transform=ax.transAxes, va='center', ha='left', fontsize=fs,
                family=fam, color='#333333', zorder=5)
    return ax


fig = plt.figure(figsize=(W / 100, H / 100), dpi=100)

a_lims = [(-111, 114), (-509, 956), (-4.4, 6.39), (-14.2, 18.36), (-1.88, 1.765), (-1.75, 1.72)]
b_lims = [(-110.5, 117), (-513, 958), (-4.41, 6.49), (-14.05, 18.47), (-1.877, 1.76), (-1.75, 1.73)]
all_xt = [xticks_dofy, xticks_nlight, xticks_soak, xticks_avg, xticks_std, xticks_std]

a_pts = [a1_pts, a2_pts, a3_pts, a4_pts, a5_pts, a6_pts]
a_curves = [[a1_grpreg, a1_gam, a1_biweight, a1_glars, a1_rbf],
            [a2_grpreg, a2_gam, a2_biweight, a2_glars, a2_rbf],
            [a3_grpreg, a3_gam, a3_biweight, a3_glars, a3_rbf],
            [a4_grpreg, a4_gam, a4_biweight, a4_glars, a4_rbf],
            [a5_grpreg, a5_gam, a5_biweight, a5_glars, a5_rbf],
            [a6_grpreg, a6_gam, a6_biweight, a6_glars, a6_rbf]]
b_pts = [b1_pts, b2_pts, b3_pts, b4_pts, b5_pts, b6_pts]
b_out = [b1_out, b2_out, b3_out, b4_out, b5_out, b6_out]
b_curves = [[b1_grpreg, b1_gam, b1_biweight, b1_glars, b1_rbf],
            [b2_grpreg, b2_gam, b2_biweight, b2_glars, b2_rbf],
            [b3_grpreg, b3_gam, b3_biweight, b3_glars, b3_rbf],
            [b4_grpreg, b4_gam, b4_biweight, b4_glars, b4_rbf],
            [b5_grpreg, b5_gam, b5_biweight, b5_glars, b5_rbf],
            [b6_grpreg, b6_gam, b6_biweight, b6_glars, b6_rbf]]

a_lefts, a_tops = [22, 255, 488], [2, 394]
b_lefts, b_tops = [29, 262, 495], [863, 1257]
a_tick_pad, a_lab_off = [5, 10.5], [35, 47]
b_tick_pad, b_lab_off = [4, 4], [33, 35]

for i in range(6):
    r, c = divmod(i, 3)
    panel(fig, a_lefts[c], a_tops[r], 197, 303, a_lims[i], all_xt[i], var_names[i],
          a_pts[i], a_curves[i], None, 'a', a_tick_pad[r], a_lab_off[r])
    panel(fig, b_lefts[c], b_tops[r], 188, 304, b_lims[i], all_xt[i], var_names[i],
          b_pts[i], b_curves[i], b_out[i], 'b', b_tick_pad[r], b_lab_off[r])

# ── Légendes des sous-figures ─────────────────────────────────────────
fig.text(352 / W, 1 - 801 / H, r'$\mathbf{(a)}\ \mathit{Original\ data.}$', ha='center', va='center',
         fontsize=20)
fig.text(350 / W, 1 - 1625 / H, r'$\mathbf{(b)}\ \mathit{Data\ with\ artificial\ outliers.}$', ha='center',
         va='center', fontsize=19.5)

fig.savefig('out.png', dpi=100)
